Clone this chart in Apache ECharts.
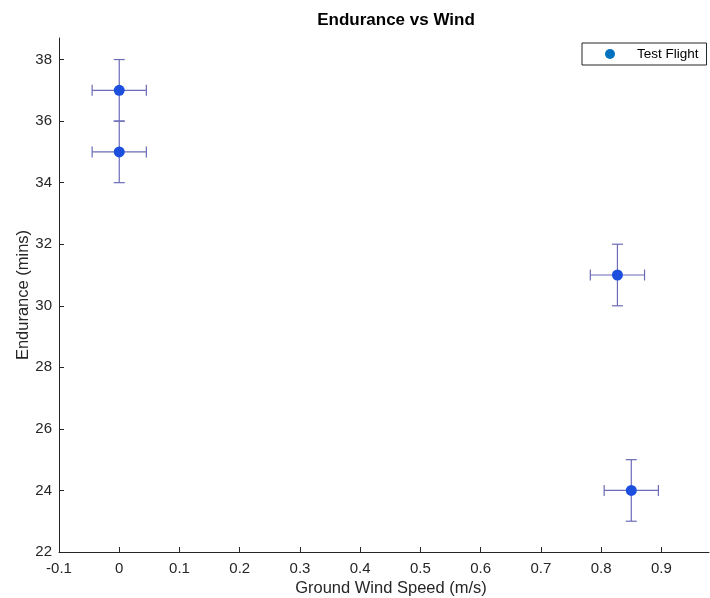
<!DOCTYPE html>
<html>
<head>
<meta charset="utf-8">
<script src="https://cdn.jsdelivr.net/npm/echarts@6/dist/echarts.min.js"></script>
<style>html,body{margin:0;padding:0;background:#fff}#c{width:710px;height:598px}</style>
</head>
<body>
<div id="c"></div>
<script>
var seriesName = 'Test Flight';
var windSpeed = [0, 0, 0.827, 0.85];
var endurance = [37, 35, 31, 24];
var windErr = [0.045, 0.045, 0.045, 0.045];
var enduranceErr = [1, 1, 1, 1];
var xTicks = [-0.1, 0, 0.1, 0.2, 0.3, 0.4, 0.5, 0.6, 0.7, 0.8, 0.9];
var yTicks = [22, 24, 26, 28, 30, 32, 34, 36, 38];

var FONT = "'Liberation Sans', Arial, Helvetica, sans-serif";
var pts = windSpeed.map(function (x, i) { return [x, endurance[i]]; });
var errData = windSpeed.map(function (x, i) { return [x, endurance[i], windErr[i], enduranceErr[i]]; });

var chart = echarts.init(document.getElementById('c'), null, {renderer: 'canvas'});
var errColor = '#6b6bb8';
chart.setOption({
  animation: false,
  backgroundColor: '#ffffff',
  title: {
    text: 'Endurance vs Wind',
    left: 391, top: 7, textAlign: 'center',
    textStyle: {fontFamily: FONT, fontSize: 17, fontWeight: 'bold', color: '#000'}
  },
  legend: {
    data: [{name: seriesName, icon: 'circle', itemStyle: {color: '#0072BD'}}],
    left: 582, top: 43,
    itemWidth: 10, itemHeight: 10, itemGap: 5,
    padding: [4, 8, 4, 23],
    borderColor: '#262626', borderWidth: 1, borderRadius: 0,
    textStyle: {fontFamily: FONT, fontSize: 13.5, color: '#000', padding: [0, 0, 0, 17]}
  },
  grid: {left: 59, right: 1, top: 38, bottom: 46, containLabel: false, outerBoundsMode: 'none'},
  xAxis: {
    type: 'value', min: -0.1, max: 0.979,
    name: 'Ground Wind Speed (m/s)', nameLocation: 'middle', nameGap: 28, nameMoveOverlap: false,
    nameTextStyle: {fontFamily: FONT, fontSize: 16.5, color: '#262626', padding: [0, 0, 0, 14]},
    axisLine: {show: true, onZero: false, lineStyle: {color: '#262626', width: 1}},
    axisTick: {show: true, inside: true, length: 5, customValues: xTicks, lineStyle: {color: '#262626'}},
    axisLabel: {customValues: xTicks, fontFamily: FONT, fontSize: 15, color: '#262626', margin: 9,
      formatter: function (v) { return String(Math.round(v * 10) / 10); }},
    splitLine: {show: false}
  },
  yAxis: {
    type: 'value', min: 22, max: 38.7,
    name: 'Endurance (mins)', nameLocation: 'middle', nameGap: 27, nameMoveOverlap: false,
    nameTextStyle: {fontFamily: FONT, fontSize: 16.5, color: '#262626'},
    axisLine: {show: true, onZero: false, lineStyle: {color: '#262626', width: 1}},
    axisTick: {show: true, inside: true, length: 5, customValues: yTicks, lineStyle: {color: '#262626'}},
    axisLabel: {customValues: yTicks, fontFamily: FONT, fontSize: 15, color: '#262626', margin: 7},
    splitLine: {show: false}
  },
  series: [
    {
      type: 'custom',
      name: 'err',
      silent: true,
      z: 2,
      renderItem: function (params, api) {
        var x = api.value(0), y = api.value(1), ex = api.value(2), ey = api.value(3);
        var l = api.coord([x - ex, y]), r = api.coord([x + ex, y]);
        var t = api.coord([x, y + ey]), b = api.coord([x, y - ey]);
        var cap = 5.5;
        var st = {stroke: errColor, lineWidth: 1.2, fill: null};
        function ln(x1, y1, x2, y2) { return {type: 'line', shape: {x1: x1, y1: y1, x2: x2, y2: y2}, style: st}; }
        return {type: 'group', children: [
          ln(l[0], l[1], r[0], r[1]),
          ln(t[0], t[1], b[0], b[1]),
          ln(l[0], l[1] - cap, l[0], l[1] + cap),
          ln(r[0], r[1] - cap, r[0], r[1] + cap),
          ln(t[0] - cap, t[1], t[0] + cap, t[1]),
          ln(b[0] - cap, b[1], b[0] + cap, b[1])
        ]};
      },
      encode: {x: 0, y: 1},
      data: errData
    },
    {
      type: 'scatter',
      name: seriesName,
      z: 3,
      symbol: 'circle',
      symbolSize: 11,
      itemStyle: {color: '#1d4fde', opacity: 1},
      data: pts
    }
  ]
});
</script>
</body>
</html>
